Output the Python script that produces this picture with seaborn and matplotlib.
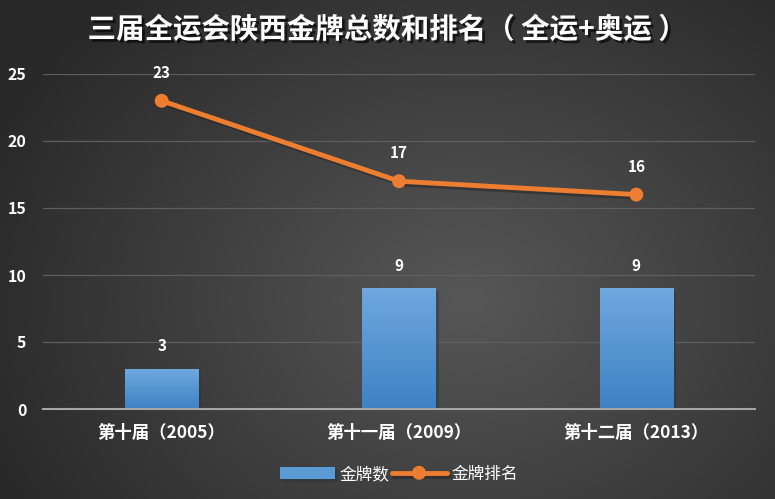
import numpy as np
import pandas as pd
import matplotlib
matplotlib.use("Agg")
import matplotlib.pyplot as plt
import matplotlib.patheffects as pe
import seaborn as sns

categories = ["第十届（2005）", "第十一届（2009）", "第十二届（2013）"]
gold_count = [3, 9, 9]
gold_rank = [23, 17, 16]
yticks = [0, 5, 10, 15, 20, 25]

sns.set_theme(style="dark")
plt.rcParams['font.family'] = ['Noto Sans CJK SC', 'DejaVu Sans']

W, H = 775, 499
fig = plt.figure(figsize=(W / 100, H / 100), dpi=100)

# radial gradient background
bg = fig.add_axes([0, 0, 1, 1], zorder=-10)
yy, xx = np.mgrid[0:H, 0:W]
cx, cy = W * 0.6, H * 0.6
r = np.sqrt(((xx - cx) / (W * 0.65)) ** 2 + ((yy - cy) / (H * 0.8)) ** 2)
r = np.clip(r, 0, 1)
c_in = np.array([0x57, 0x57, 0x57]) / 255
c_out = np.array([0x2a, 0x2a, 0x2a]) / 255
img = c_in[None, None, :] * (1 - r[..., None]) + c_out[None, None, :] * r[..., None]
bg.imshow(img, aspect='auto', extent=[0, 1, 0, 1], origin='upper')
bg.axis('off')

ax = fig.add_axes([43 / W, 90 / H, 712 / W, 335 / H])
ax.patch.set_alpha(0)

df = pd.DataFrame({"届": categories, "金牌数": gold_count, "金牌排名": gold_rank})
sns.barplot(data=df, x="届", y="金牌数", ax=ax, width=0.31, color="#5b9bd5",
            saturation=1, label="金牌数", zorder=3, edgecolor="none", linewidth=0)

# gradient on bars
for p in ax.patches:
    x0, y0 = p.get_x(), p.get_y()
    w, h = p.get_width(), p.get_height()
    grad = np.linspace(0, 1, 100)[:, None]
    top = np.array([0x70, 0xa8, 0xdf]) / 255
    bot = np.array([0x3d, 0x82, 0xc4]) / 255
    gimg = top[None, None, :] * (1 - grad[..., None]) + bot[None, None, :] * grad[..., None]
    gimg = np.repeat(gimg, 2, axis=1)
    im = ax.imshow(gimg, extent=[x0, x0 + w, y0, y0 + h], aspect='auto', zorder=4, origin='upper')
    im.set_clip_path(p)
    p.set_path_effects([pe.SimplePatchShadow(offset=(2, -2), alpha=0.35), pe.Normal()])

sns.lineplot(data=df, x="届", y="金牌排名", ax=ax, color="#ed7d31", linewidth=3.5,
             marker="o", markersize=10, markeredgewidth=0, label="金牌排名", zorder=6,
             path_effects=[pe.SimpleLineShadow(offset=(2, -2), alpha=0.4), pe.Normal()])

for i, v in enumerate(gold_count):
    ax.text(i, v + 1.1, str(v), ha='center', va='bottom', color='white',
            fontsize=11, fontweight='bold', zorder=7)
for i, v in enumerate(gold_rank):
    ax.text(i, v + 1.5, str(v), ha='center', va='bottom', color='white',
            fontsize=11, fontweight='bold', zorder=7)

ax.set_xlim(-0.5, 2.5)
ax.set_ylim(0, 25)
ax.set_yticks(yticks)
ax.set_yticklabels([str(t) for t in yticks])
ax.set_xlabel("")
ax.set_ylabel("")
ax.grid(axis='y', color='#5e5e5e', linewidth=0.9, zorder=0)
ax.grid(axis='x', visible=False)
for s in ['top', 'right', 'left']:
    ax.spines[s].set_visible(False)
ax.spines['bottom'].set_color('#a6a6a6')
ax.spines['bottom'].set_linewidth(1.5)
ax.spines['bottom'].set_zorder(8)
ax.tick_params(axis='both', length=0, colors='white')
ax.tick_params(axis='y', pad=12, labelsize=11.5)
ax.tick_params(axis='x', pad=11, labelsize=12.5)
for lab in ax.get_xticklabels() + ax.get_yticklabels():
    lab.set_fontweight('bold')
    lab.set_color('white')

handles, labels = ax.get_legend_handles_labels()
order = [labels.index("金牌数"), labels.index("金牌排名")]
leg = ax.legend([handles[i] for i in order], [labels[i] for i in order],
                loc='upper center', bbox_to_anchor=(0.5, -0.125), ncol=2, frameon=False,
                fontsize=12, handlelength=3.3, handleheight=0.8, columnspacing=0.1,
                handletextpad=0.3)
for t in leg.get_texts():
    t.set_color('white')

fig.text(0.5, 1 - 30 / H, "三届全运会陕西金牌总数和排名（ 全运+奥运 ）", ha='center', va='center',
         color='white', fontsize=20.5, fontweight='bold',
         path_effects=[pe.withSimplePatchShadow(offset=(2, -2), shadow_rgbFace='black', alpha=0.6)])

fig.savefig("out.png", dpi=100)
